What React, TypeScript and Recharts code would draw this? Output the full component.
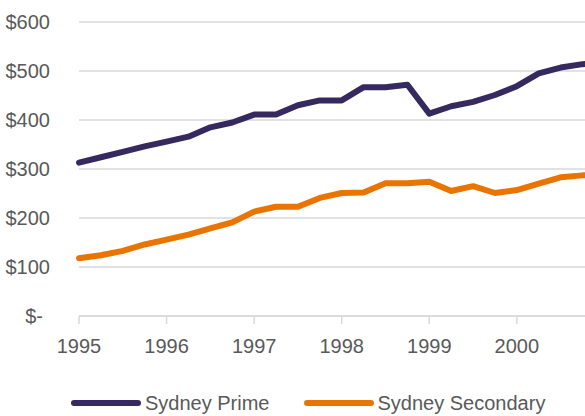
import React from 'react';
import { LineChart, Line, XAxis, YAxis, CartesianGrid, Legend } from 'recharts';

// Quarterly index (0 = 1995 Q1)
const quarters = [0, 1, 2, 3, 4, 5, 6, 7, 8, 9, 10, 11, 12, 13, 14, 15, 16, 17, 18, 19, 20, 21, 22, 23, 24];
const sydneyPrime = [313, 324, 335, 346, 356, 366, 385, 395, 411, 411, 430, 440, 440, 467, 467, 472, 413, 428, 437, 451, 469, 495, 507, 514, 518];
const sydneySecondary = [118, 124, 133, 146, 156, 166, 179, 191, 213, 223, 223, 241, 251, 252, 271, 271, 274, 255, 265, 251, 257, 270, 283, 287, 289];
const yearLabels = ['1995', '1996', '1997', '1998', '1999', '2000'];
const yTicks = [0, 100, 200, 300, 400, 500, 600];
const yTickLabels = ['$-', '$100', '$200', '$300', '$400', '$500', '$600'];

const seriesNames = ['Sydney Prime', 'Sydney Secondary'];
const seriesColors = ['#35295F', '#E97500'];

const data = quarters.map((q, i) => ({ q, prime: sydneyPrime[i], secondary: sydneySecondary[i] }));
const xTicks = yearLabels.map((_, i) => i * 4);

const FONT = '"Liberation Sans", Arial, sans-serif';
const TEXT = '#595959';
const GRID = '#D9D9D9';

const YTick = (props: any) => {
  const { x, y, payload } = props;
  const idx = yTicks.indexOf(payload.value);
  const label = idx >= 0 ? yTickLabels[idx] : String(payload.value);
  const shift = payload.value === 0 ? -7 : 0;
  return (
    <text x={x + shift} y={y} dy="0.355em" textAnchor="end" fill={TEXT} fontFamily={FONT} fontSize={20}>
      {label}
    </text>
  );
};

const renderLegend = (props: any) => {
  const { payload } = props;
  return (
    <div style={{ display: 'flex', alignItems: 'center', height: 26, paddingLeft: 69, fontFamily: FONT, fontSize: 20, color: TEXT }}>
      {(payload || []).map((entry: any, i: number) => (
        <div key={i} style={{ display: 'flex', alignItems: 'center', marginRight: 32 }}>
          <svg width={74} height={10} style={{ display: 'block' }}>
            <line x1={5} y1={5} x2={69} y2={5} stroke={entry.color} strokeWidth={6} strokeLinecap="round" />
          </svg>
          <span style={{ marginLeft: 2, whiteSpace: 'nowrap' }}>{entry.value}</span>
        </div>
      ))}
    </div>
  );
};

export default function App() {
  return (
    <div style={{ position: 'fixed', left: 0, top: 0, width: 585, height: 416, overflow: 'hidden', background: '#fff' }}>
      <LineChart width={702} height={416} data={data} margin={{ top: 22, right: 10, bottom: 70, left: 0 }}>
        <CartesianGrid horizontal vertical={false} stroke={GRID} strokeWidth={1.5} />
        <XAxis
          dataKey="q"
          type="number"
          domain={[0, 28]}
          ticks={xTicks}
          tickFormatter={(v: number) => yearLabels[v / 4] ?? ''}
          interval={0}
          height={30}
          axisLine={{ stroke: GRID, strokeWidth: 1.5 }}
          tickLine={{ stroke: GRID, strokeWidth: 1.5 }}
          tickSize={8}
          tickMargin={15}
          tick={{ fill: TEXT, fontFamily: FONT, fontSize: 20 }}
        />
        <YAxis
          domain={[0, 600]}
          ticks={yTicks}
          width={79}
          axisLine={false}
          tickLine={false}
          tickSize={0}
          tickMargin={29}
          tick={<YTick />}
          interval={0}
        />
        <Legend
          layout="horizontal"
          verticalAlign="middle"
          align="center"
          wrapperStyle={{ top: 390, left: 0, width: 585 }}
          content={renderLegend}
        />
        <Line
          type="linear"
          dataKey="prime"
          name={seriesNames[0]}
          stroke={seriesColors[0]}
          strokeWidth={6}
          dot={false}
          strokeLinejoin="round"
          strokeLinecap="round"
          isAnimationActive={false}
        />
        <Line
          type="linear"
          dataKey="secondary"
          name={seriesNames[1]}
          stroke={seriesColors[1]}
          strokeWidth={6}
          dot={false}
          strokeLinejoin="round"
          strokeLinecap="round"
          isAnimationActive={false}
        />
      </LineChart>
    </div>
  );
}
